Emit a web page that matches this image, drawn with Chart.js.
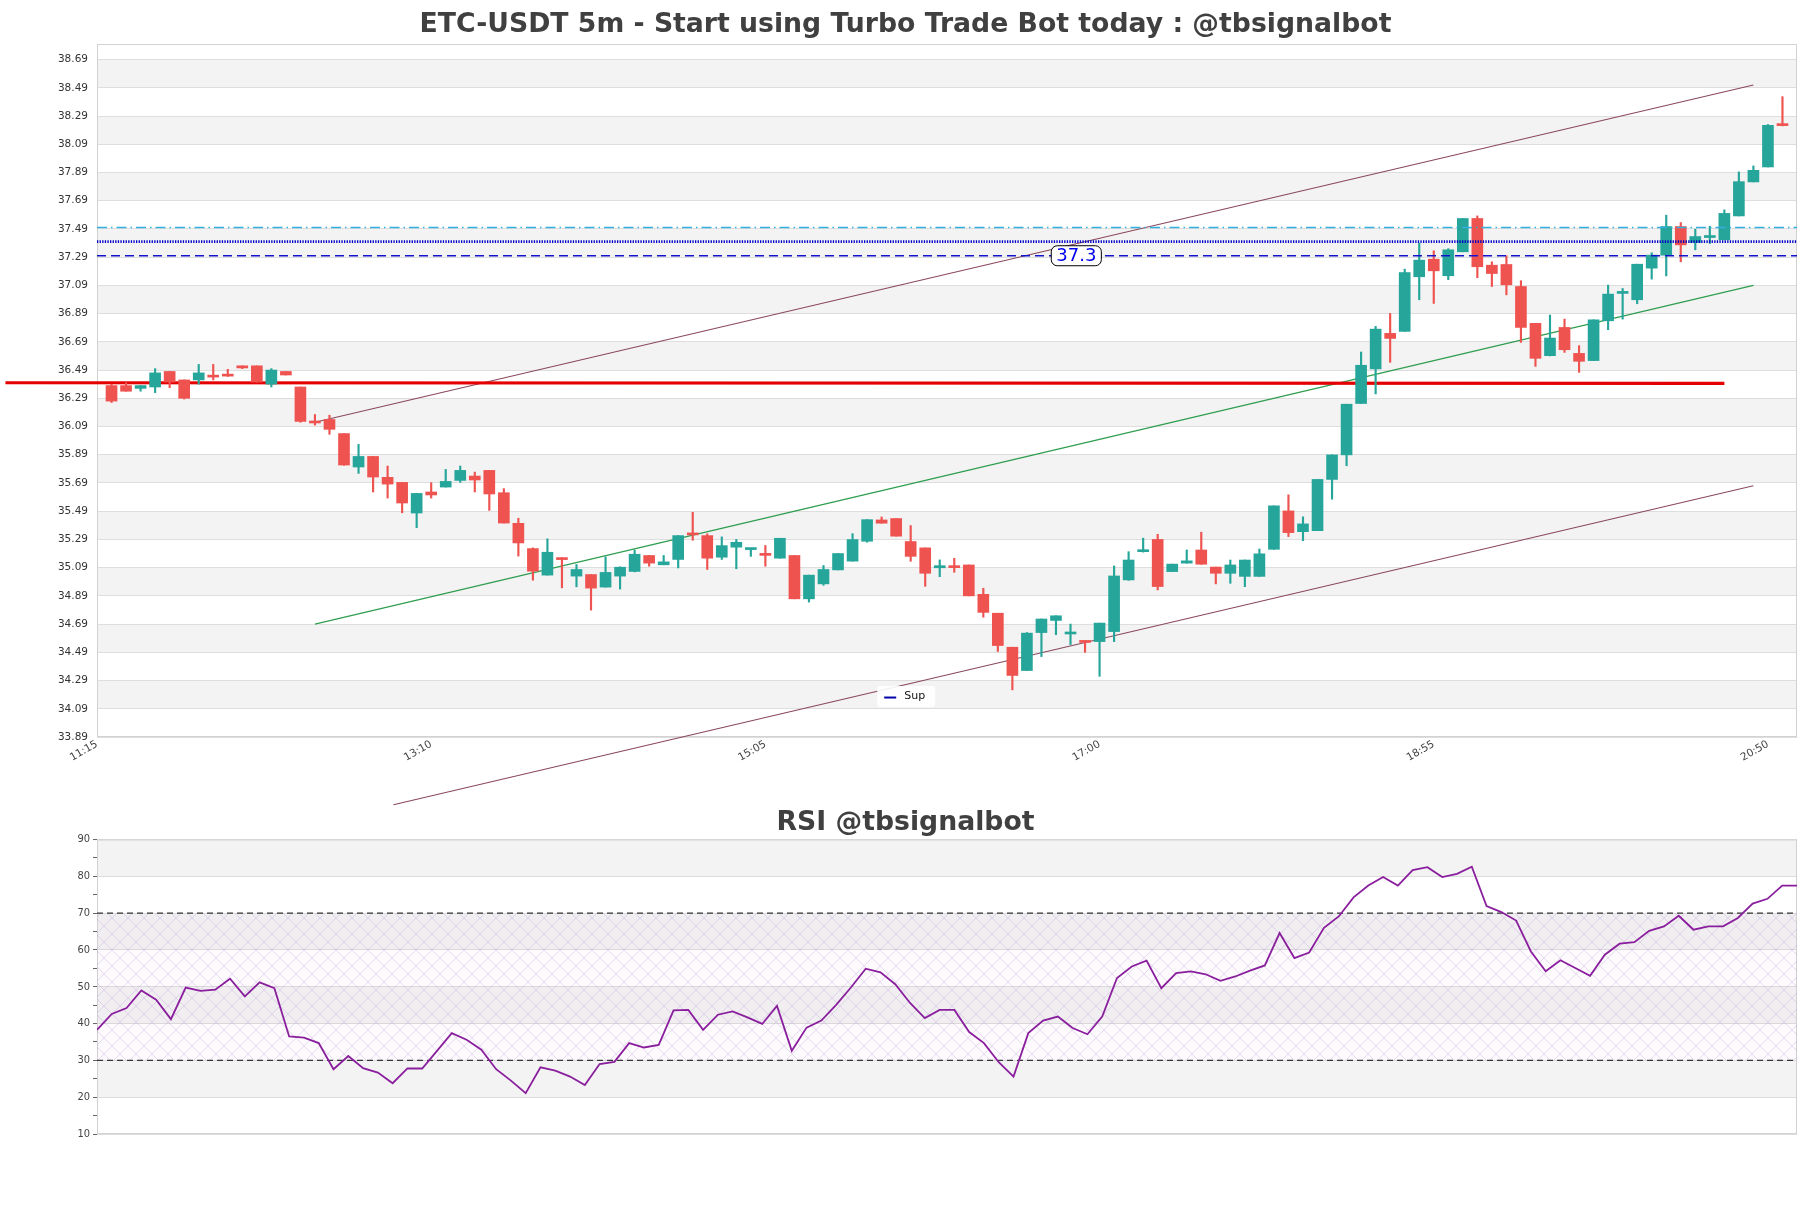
<!DOCTYPE html>
<html>
<head>
<meta charset="utf-8">
<script src="https://cdn.jsdelivr.net/npm/chart.js@4.4.0/dist/chart.umd.min.js"></script>
<style>
  html, body { margin: 0; padding: 0; background: #fff; }
  #wrap { position: relative; width: 1811px; height: 1208px; overflow: hidden; }
  canvas { position: absolute; left: 0; }
  #main { top: 0; }
  #rsi { top: 790px; }
</style>
</head>
<body>
<div id="wrap">
  <canvas id="main" width="1811" height="810"></canvas>
  <canvas id="rsi" width="1811" height="418"></canvas>
</div>
<script>
// 5m candles, 11:20 .. 20:55 (slot 1 .. 116, slot 0 = 11:15)
const opens = [36.38, 36.38, 36.36, 36.37, 36.48, 36.42, 36.42, 36.45, 36.45, 36.52,
  36.52, 36.39, 36.48, 36.37, 36.126, 36.14, 36.04, 35.803, 35.878, 35.73,
  35.694, 35.477, 35.626, 35.661, 35.708, 35.739, 35.779, 35.621, 35.404, 35.225,
  35.037, 35.159, 35.03, 35.041, 34.952, 35.03, 35.063, 35.176, 35.11, 35.148,
  35.336, 35.317, 35.164, 35.235, 35.218, 35.19, 35.157, 35.176, 34.869, 34.975,
  35.074, 35.136, 35.277, 35.428, 35.438, 35.275, 35.23, 35.089, 35.104, 35.109,
  34.901, 34.767, 34.526, 34.361, 34.63, 34.716, 34.62, 34.573, 34.566, 34.637,
  35.003, 35.203, 35.29, 35.062, 35.122, 35.215, 35.094, 35.05, 35.028, 35.028,
  35.22, 35.492, 35.345, 35.352, 35.715, 35.889, 36.253, 36.498, 36.75, 36.764,
  37.151, 37.276, 37.158, 37.328, 37.564, 37.233, 37.238, 37.082, 36.821, 36.592,
  36.792, 36.608, 36.557, 36.839, 37.033, 36.988, 37.212, 37.304, 37.507, 37.394,
  37.429, 37.413, 37.582, 37.823, 37.929, 38.231];
const highs = [36.39, 36.40, 36.38, 36.50, 36.48, 36.42, 36.53, 36.53, 36.495, 36.52,
  36.52, 36.50, 36.48, 36.37, 36.175, 36.17, 36.04, 35.963, 35.878, 35.81,
  35.694, 35.616, 35.692, 35.786, 35.81, 35.767, 35.779, 35.65, 35.44, 35.23,
  35.294, 35.16, 35.112, 35.041, 35.166, 35.096, 35.214, 35.176, 35.176, 35.317,
  35.482, 35.33, 35.308, 35.29, 35.225, 35.247, 35.298, 35.176, 35.037, 35.105,
  35.19, 35.331, 35.43, 35.449, 35.438, 35.388, 35.23, 35.145, 35.156, 35.109,
  34.944, 34.767, 34.526, 34.63, 34.726, 34.749, 34.69, 34.573, 34.697, 35.102,
  35.203, 35.299, 35.326, 35.115, 35.215, 35.341, 35.094, 35.144, 35.144, 35.222,
  35.528, 35.606, 35.45, 35.715, 35.889, 36.248, 36.618, 36.80, 36.891, 37.205,
  37.389, 37.335, 37.35, 37.564, 37.582, 37.257, 37.30, 37.123, 36.821, 36.88,
  36.851, 36.663, 36.846, 37.092, 37.068, 37.24, 37.321, 37.587, 37.535, 37.488,
  37.509, 37.625, 37.894, 37.936, 38.23, 38.427];
const lows = [36.26, 36.34, 36.34, 36.33, 36.365, 36.285, 36.39, 36.42, 36.445, 36.50,
  36.405, 36.37, 36.455, 36.12, 36.10, 36.035, 35.815, 35.758, 35.626, 35.583,
  35.479, 35.373, 35.583, 35.661, 35.694, 35.626, 35.496, 35.406, 35.172, 35.001,
  35.037, 34.947, 34.954, 34.789, 34.952, 34.938, 35.06, 35.10, 35.11, 35.088,
  35.284, 35.077, 35.148, 35.082, 35.17, 35.10, 35.157, 34.869, 34.846, 34.965,
  35.074, 35.136, 35.27, 35.405, 35.313, 35.135, 34.958, 35.026, 35.057, 34.89,
  34.739, 34.496, 34.224, 34.36, 34.46, 34.615, 34.545, 34.49, 34.32, 34.566,
  35.0, 35.2, 34.932, 35.062, 35.122, 35.114, 34.975, 34.979, 34.955, 35.028,
  35.22, 35.31, 35.281, 35.352, 35.575, 35.812, 36.253, 36.321, 36.545, 36.764,
  36.988, 36.962, 37.13, 37.328, 37.144, 37.082, 37.023, 36.686, 36.516, 36.59,
  36.615, 36.474, 36.557, 36.776, 36.851, 36.96, 37.134, 37.157, 37.257, 37.342,
  37.387, 37.413, 37.582, 37.823, 37.929, 38.22];
const closes = [36.27, 36.34, 36.38, 36.47, 36.405, 36.29, 36.47, 36.44, 36.447, 36.505,
  36.405, 36.49, 36.455, 36.126, 36.115, 36.07, 35.817, 35.878, 35.732, 35.682,
  35.548, 35.616, 35.605, 35.701, 35.779, 35.711, 35.612, 35.406, 35.265, 35.065,
  35.199, 35.147, 35.077, 34.945, 35.056, 35.093, 35.185, 35.122, 35.131, 35.317,
  35.322, 35.157, 35.246, 35.27, 35.222, 35.177, 35.298, 34.869, 35.037, 35.077,
  35.19, 35.289, 35.43, 35.405, 35.313, 35.17, 35.05, 35.104, 35.09, 34.89,
  34.773, 34.538, 34.326, 34.626, 34.726, 34.749, 34.634, 34.56, 34.697, 35.031,
  35.144, 35.215, 34.956, 35.115, 35.138, 35.114, 35.05, 35.109, 35.144, 35.188,
  35.528, 35.338, 35.40, 35.715, 35.889, 36.248, 36.524, 36.78, 36.714, 37.181,
  37.269, 37.193, 37.342, 37.564, 37.222, 37.174, 37.094, 36.792, 36.573, 36.717,
  36.634, 36.552, 36.846, 37.028, 37.045, 37.24, 37.304, 37.507, 37.377, 37.436,
  37.44, 37.60, 37.825, 37.905, 38.224, 38.222];

const yTicks = [33.89, 34.09, 34.29, 34.49, 34.69, 34.89, 35.09, 35.29, 35.49, 35.69,
  35.89, 36.09, 36.29, 36.49, 36.69, 36.89, 37.09, 37.29, 37.49, 37.69,
  37.89, 38.09, 38.29, 38.49, 38.69];
const xTickSlots = [0, 23, 46, 69, 92, 115];
const xTickLabels = ['11:15', '13:10', '15:05', '17:00', '18:55', '20:50'];

// levels and trend lines (slot, price)
const resLevel = 37.50;
const pivotLevel = 37.40;
const supLevel = 37.30;
const redLine = [{x: -6.3, y: 36.40}, {x: 112, y: 36.395}];
const upperChannel = [{x: 15, y: 36.12}, {x: 114, y: 38.51}];
const lowerChannel = [{x: 20.4, y: 33.41}, {x: 114, y: 35.67}];
const midTrend = [{x: 15, y: 34.69}, {x: 114, y: 37.09}];
const supNote = {x: 67.4, y: 37.3, text: '37.3'};

// RSI, one value per candle
const rsi = [38.3, 42.6, 44.2, 49.0, 46.5, 41.2, 49.8, 48.9, 49.2, 52.2,
  47.4, 51.2, 49.6, 36.5, 36.2, 34.7, 27.6, 31.2, 27.9, 26.7,
  23.8, 27.8, 27.8, 32.6, 37.4, 35.6, 32.9, 27.6, 24.5, 21.1,
  28.1, 27.2, 25.6, 23.3, 29.0, 29.6, 34.7, 33.5, 34.2, 43.6,
  43.7, 38.3, 42.4, 43.3, 41.7, 39.9, 44.8, 32.6, 38.9, 40.8,
  45.1, 49.8, 54.9, 53.9, 50.7, 45.6, 41.5, 43.7, 43.7, 37.7,
  34.7, 29.5, 25.6, 37.4, 40.8, 41.9, 38.8, 37.1, 41.9, 52.4,
  55.5, 57.1, 49.6, 53.7, 54.2, 53.4, 51.6, 52.8, 54.4, 55.8,
  64.6, 57.8, 59.3, 66.0, 69.1, 74.3, 77.5, 79.8, 77.5, 81.7,
  82.5, 79.8, 80.7, 82.6, 71.9, 70.3, 68.0, 59.6, 54.2, 57.2,
  55.1, 53.0, 58.7, 61.7, 62.1, 65.2, 66.4, 69.3, 65.5, 66.4,
  66.4, 68.7, 72.6, 73.9, 77.5, 77.5];
const rsiHigh = 70;
const rsiLow = 30;

Chart.defaults.font.family = '"DejaVu Sans", sans-serif';
Chart.defaults.color = '#333';

const up = '#26a69a', down = '#ef5350';
const colors = opens.map((o, k) => closes[k] >= o ? up : down);
const bodies = opens.map((o, k) => ({x: k + 1, y: [o, closes[k]]}));
const wicks = lows.map((l, k) => ({x: k + 1, y: [l, highs[k]]}));

function hLine(v, x0, x1) {
  return [{x: x0, y: v}, {x: x1, y: v}];
}

// alternate grey bands between labelled ticks + light frame
const bandsPlugin = {
  id: 'bands',
  beforeDraw(chart) {
    const {ctx, chartArea: a, scales: {y}} = chart;
    const vals = y.ticks.filter(t => t.label !== '').map(t => t.value).sort((p, q) => p - q);
    if (vals[vals.length - 1] < y.max) vals.push(y.max);
    ctx.save();
    ctx.fillStyle = '#fff';
    ctx.fillRect(a.left, a.top, a.width, a.height);
    ctx.fillStyle = '#f3f3f3';
    for (let k = 0; k < vals.length - 1; k++) {
      if (k % 2 === 1) {
        const y0 = y.getPixelForValue(vals[k]);
        const y1 = y.getPixelForValue(vals[k + 1]);
        ctx.fillRect(a.left, y1, a.width, y0 - y1);
      }
    }
    ctx.restore();
  },
  beforeDatasetsDraw(chart) {
    const {ctx, chartArea: a} = chart;
    ctx.save();
    ctx.strokeStyle = '#d2d2d2';
    ctx.lineWidth = 1;
    ctx.strokeRect(a.left + 0.5, a.top + 0.5, a.width - 1, a.height - 1);
    ctx.restore();
  }
};

function roundBox(ctx, x, y, w, h, r) {
  ctx.beginPath();
  if (ctx.roundRect) ctx.roundRect(x, y, w, h, r);
  else ctx.rect(x, y, w, h);
}

const notesPlugin = {
  id: 'notes',
  afterDatasetsDraw(chart) {
    const {ctx, chartArea: a, scales: {x, y}} = chart;
    ctx.save();
    // price tag on the support line
    const px = x.getPixelForValue(supNote.x);
    const py = y.getPixelForValue(supNote.y);
    ctx.font = '18px "DejaVu Sans"';
    const w = ctx.measureText(supNote.text).width + 10;
    roundBox(ctx, px - w / 2, py - 10, w, 20, 6);
    ctx.fillStyle = '#fff';
    ctx.fill();
    ctx.strokeStyle = '#000';
    ctx.lineWidth = 1;
    ctx.stroke();
    ctx.fillStyle = '#0000ee';
    ctx.textAlign = 'center';
    ctx.textBaseline = 'middle';
    ctx.fillText(supNote.text, px, py + 1);

    // legend
    const cx = a.left + a.width * 0.476;
    const cy = a.top + a.height * 0.9416;
    roundBox(ctx, cx - 29, cy - 10.5, 58, 21, 3);
    ctx.fillStyle = 'rgba(255,255,255,0.9)';
    ctx.fill();
    ctx.strokeStyle = '#0000aa';
    ctx.lineWidth = 2;
    ctx.beginPath();
    ctx.moveTo(cx - 22, cy + 1);
    ctx.lineTo(cx - 10, cy + 1);
    ctx.stroke();
    ctx.fillStyle = '#111';
    ctx.font = '11px "DejaVu Sans"';
    ctx.textAlign = 'left';
    ctx.fillText('Sup', cx - 2, cy);
    ctx.restore();
  }
};

new Chart(document.getElementById('main'), {
  type: 'bar',
  data: {
    datasets: [
      {type: 'line', label: 'Res', data: hLine(resLevel, 0, 117), borderColor: '#35aee0',
        borderWidth: 1.3, borderDash: [10, 4, 1.5, 4], pointRadius: 0},
      {type: 'line', label: 'Pivot', data: hLine(pivotLevel, 0, 117), borderColor: '#0000c8',
        borderWidth: 2.6, borderDash: [1.3, 1.3], pointRadius: 0},
      {type: 'line', label: 'Sup', data: hLine(supLevel, 0, 117), borderColor: '#1414cc',
        borderWidth: 1.4, borderDash: [9, 5], pointRadius: 0},
      {label: 'body', data: bodies, backgroundColor: colors, barThickness: 11,
        grouped: false, minBarLength: 2, borderWidth: 0},
      {label: 'wick', data: wicks, backgroundColor: colors, barThickness: 1.5,
        grouped: false, borderWidth: 0},
      {type: 'line', label: 'level', data: redLine, borderColor: '#e40000',
        borderWidth: 3.2, pointRadius: 0, clip: false},
      {type: 'line', label: 'upper', data: upperChannel, borderColor: '#8a4a5e',
        borderWidth: 1.2, pointRadius: 0, clip: false},
      {type: 'line', label: 'lower', data: lowerChannel, borderColor: '#8a4a5e',
        borderWidth: 1.2, pointRadius: 0, clip: false},
      {type: 'line', label: 'trend', data: midTrend, borderColor: '#2e9e4f',
        borderWidth: 1.2, pointRadius: 0, clip: false}
    ]
  },
  options: {
    responsive: false,
    animation: false,
    devicePixelRatio: 1,
    events: [],
    layout: {padding: {left: 14, right: 14, top: 0, bottom: 0}},
    plugins: {
      legend: {display: false},
      tooltip: {enabled: false},
      title: {
        display: true,
        text: 'ETC-USDT 5m - Start using Turbo Trade Bot today : @tbsignalbot',
        color: '#404040',
        font: {size: 26.7, weight: 'bold'},
        padding: {top: 9.5, bottom: 2.5}
      }
    },
    scales: {
      x: {
        type: 'linear', min: 0, max: 117, offset: false,
        grid: {display: false},
        border: {display: false},
        afterBuildTicks(s) { s.ticks = xTickSlots.map(v => ({value: v})); },
        ticks: {
          callback: (v, i) => xTickLabels[i],
          autoSkip: false, minRotation: 30, maxRotation: 30,
          padding: -7, color: '#444', font: {size: 10.5}
        },
        afterFit(s) { s.height = 73; }
      },
      y: {
        min: 33.89, max: 38.80,
        afterBuildTicks(s) { s.ticks = yTicks.map(v => ({value: v})); },
        ticks: {callback: v => v.toFixed(2), padding: 9, color: '#333', font: {size: 10.5}},
        grid: {color: '#dedede', drawTicks: false},
        border: {display: false},
        afterFit(s) { s.width = 83; }
      }
    }
  },
  plugins: [bandsPlugin, notesPlugin]
});

function hatch() {
  const c = document.createElement('canvas');
  c.width = 16; c.height = 16;
  const g = c.getContext('2d');
  g.fillStyle = 'rgba(200,160,220,0.05)';
  g.fillRect(0, 0, 16, 16);
  g.strokeStyle = 'rgba(150,90,185,0.2)';
  g.lineWidth = 1;
  g.beginPath();
  g.moveTo(0, 0); g.lineTo(16, 16);
  g.moveTo(16, 0); g.lineTo(0, 16);
  g.stroke();
  return g.createPattern(c, 'repeat');
}

new Chart(document.getElementById('rsi'), {
  type: 'line',
  data: {
    datasets: [
      {label: 'RSI', data: rsi.map((v, j) => ({x: j, y: v})), borderColor: '#8a1f9e',
        borderWidth: 1.8, pointRadius: 0, tension: 0},
      {label: 'high', data: hLine(rsiHigh, 0, 115), borderColor: '#333',
        borderWidth: 1.2, borderDash: [6, 4], pointRadius: 0,
        fill: {value: rsiLow}, backgroundColor: hatch()},
      {label: 'low', data: hLine(rsiLow, 0, 115), borderColor: '#333',
        borderWidth: 1.2, borderDash: [6, 4], pointRadius: 0}
    ]
  },
  options: {
    responsive: false,
    animation: false,
    devicePixelRatio: 1,
    events: [],
    layout: {padding: {left: 14, right: 14, top: 0, bottom: 0}},
    plugins: {
      legend: {display: false},
      tooltip: {enabled: false},
      title: {
        display: true,
        text: 'RSI @tbsignalbot',
        color: '#404040',
        font: {size: 26.7, weight: 'bold'},
        padding: {top: 17.5, bottom: 0}
      }
    },
    scales: {
      x: {
        type: 'linear', min: 0, max: 115,
        ticks: {display: false},
        grid: {display: false},
        border: {display: false},
        afterFit(s) { s.height = 74; }
      },
      y: {
        min: 10, max: 90,
        ticks: {
          stepSize: 5,
          callback: v => v % 10 === 0 ? v : '',
          padding: 3, color: '#444',
          font: {size: 11, family: '"DejaVu Sans Condensed", "DejaVu Sans"'}
        },
        grid: {
          color: c => (c.tick && c.tick.value % 10 === 0) ? '#dcdcdc' : 'rgba(0,0,0,0)',
          tickColor: '#666', tickLength: 4
        },
        border: {display: false},
        afterFit(s) { s.width = 83; }
      }
    }
  },
  plugins: [bandsPlugin]
});
</script>
</body>
</html>
